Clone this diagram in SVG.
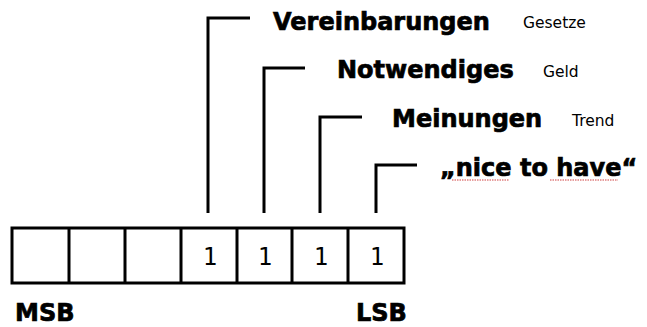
<svg xmlns="http://www.w3.org/2000/svg" width="647" height="327" viewBox="0 0 647 327">
<style>
.ln{fill:none;stroke:#000;stroke-width:3;stroke-linecap:butt;stroke-linejoin:miter}
.big{font-family:"DejaVu Sans","Verdana",sans-serif;font-weight:bold;font-size:24px;fill:#000;stroke:#000;stroke-width:0.7}
.small{font-family:"DejaVu Sans","Verdana",sans-serif;font-size:15.5px;fill:#000}
.bit{font-family:"DejaVu Sans Mono","Liberation Mono",monospace;font-size:24px;fill:#000;text-anchor:middle}
.sq{fill:none;stroke:#d04040;stroke-width:1;stroke-dasharray:1.5 1}
</style>
<rect width="647" height="327" fill="#fff"/>
<g id="connectors">
<path class="ln" d="M208,213 V18 H250"/>
<path class="ln" d="M264,213 V68 H305"/>
<path class="ln" d="M320,213 V117 H362"/>
<path class="ln" d="M376,213 V165 H417"/>
</g>
<g id="register">
<rect class="ln" x="12" y="228" width="392" height="55"/>
<path class="ln" d="M69,228 V283 M125,228 V283 M181,228 V283 M237,228 V283 M292,228 V283 M348,228 V283"/>
<text class="bit" x="210" y="265">1</text>
<text class="bit" x="265" y="265">1</text>
<text class="bit" x="321" y="265">1</text>
<text class="bit" x="377" y="265">1</text>
</g>
<g id="msb"><text class="big" x="15" y="321">MSB</text></g>
<g id="lsb"><text class="big" x="356" y="321">LSB</text></g>
<g id="label1">
<text class="big" x="273" y="30">Vereinbarungen</text>
<text class="small" x="523" y="28">Gesetze</text>
</g>
<g id="label2">
<text class="big" x="337" y="78">Notwendiges</text>
<text class="small" x="543" y="77">Geld</text>
</g>
<g id="label3">
<text class="big" x="392" y="127">Meinungen</text>
<text class="small" x="572" y="126">Trend</text>
</g>
<g id="label4">
<text class="big" x="440" y="176">„nice to have“</text>
<path class="sq" d="M452,180 H509 M550,180 H618"/>
</g>
</svg>
